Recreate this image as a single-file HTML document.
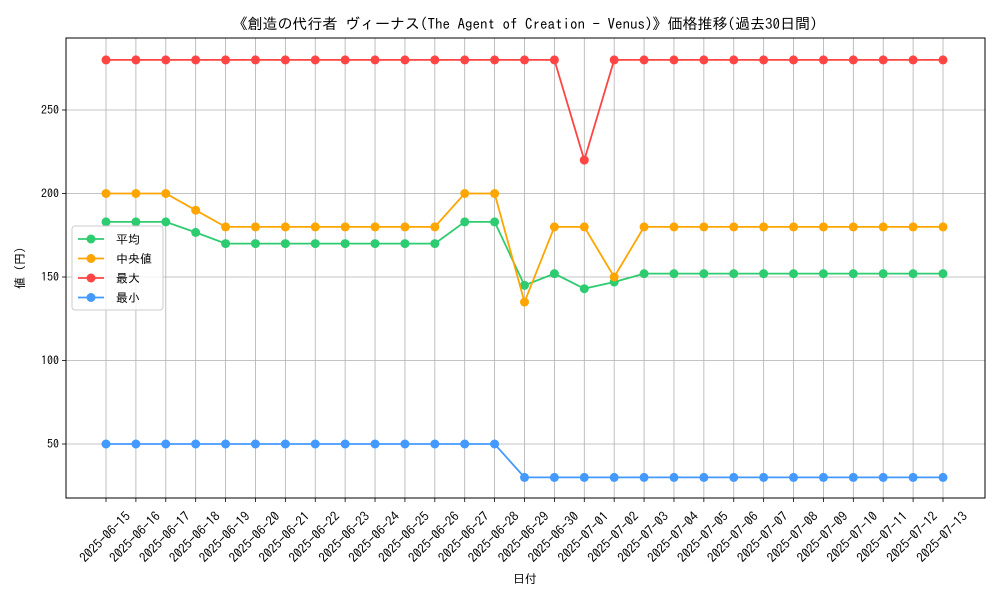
<!DOCTYPE html>
<html><head><meta charset="utf-8"><style>
body{margin:0;background:#fff}
svg text{font-family:"IPAGothic","Noto Sans CJK JP",sans-serif;fill:#000}
</style></head><body>
<svg id="chart" width="1000" height="600" xmlns="http://www.w3.org/2000/svg"></svg>
<script>
const dates=["2025-06-15","2025-06-16","2025-06-17","2025-06-18","2025-06-19","2025-06-20","2025-06-21","2025-06-22","2025-06-23","2025-06-24","2025-06-25","2025-06-26","2025-06-27","2025-06-28","2025-06-29","2025-06-30","2025-07-01","2025-07-02","2025-07-03","2025-07-04","2025-07-05","2025-07-06","2025-07-07","2025-07-08","2025-07-09","2025-07-10","2025-07-11","2025-07-12","2025-07-13"];
const avgVals=[183,183,183,176.7,170,170,170,170,170,170,170,170,183,183,145,152,143,147,152,152,152,152,152,152,152,152,152,152,152];
const medVals=[200,200,200,190,180,180,180,180,180,180,180,180,200,200,135,180,180,150,180,180,180,180,180,180,180,180,180,180,180];
const maxVals=[280,280,280,280,280,280,280,280,280,280,280,280,280,280,280,280,220,280,280,280,280,280,280,280,280,280,280,280,280];
const minVals=[50,50,50,50,50,50,50,50,50,50,50,50,50,50,30,30,30,30,30,30,30,30,30,30,30,30,30,30,30];
const yTicks=[50,100,150,200,250];
const seriesNames=["平均","中央値","最大","最小"];
const colors=["#2ecc71","#ffa500","#ff4444","#4499ff"];

const svg=document.getElementById('chart');
const NS="http://www.w3.org/2000/svg";
const L=66,R=985,T=38,B=498;
const x=i=>106+i*(943-106)/(dates.length-1);
const y=v=>527.5-v*1.67;
function mk(tag,attrs,parent){const e=document.createElementNS(NS,tag);for(const k in attrs)e.setAttribute(k,attrs[k]);(parent||svg).appendChild(e);return e;}

dates.forEach((d,i)=>{
  const g=mk('line',{x1:x(i),x2:x(i),y1:T,y2:B,stroke:'#b0b0b0','stroke-width':0.8});
  
  
  mk('line',{x1:x(i),x2:x(i),y1:B,y2:B+4,stroke:'#000','stroke-width':0.8});
  const t=mk('text',{x:0,y:0,'font-size':13,'text-anchor':'middle','dominant-baseline':'central',transform:`translate(${x(i)-1},${B+39}) rotate(-45)`});
  t.textContent=d;
  
  
});
yTicks.forEach(v=>{
  const g=mk('line',{x1:L,x2:R,y1:y(v),y2:y(v),stroke:'#b0b0b0','stroke-width':0.8});
  
  
  mk('line',{x1:L-4,x2:L,y1:y(v),y2:y(v),stroke:'#000','stroke-width':0.8});
  const t=mk('text',{x:L-7,y:y(v)+4,'font-size':12,'text-anchor':'end'});
  t.textContent=v;
  
  
});
const frame=mk('rect',{x:L,y:T,width:R-L,height:B-T,fill:'none',stroke:'#000','stroke-width':1});



[avgVals,medVals,maxVals,minVals].forEach((vals,s)=>{
  const g=mk('g',{});
  
  
  mk('polyline',{points:vals.map((v,i)=>x(i)+','+y(v)).join(' '),fill:'none',stroke:colors[s],'stroke-width':1.8},g);
  vals.forEach((v,i)=>{
    const c=mk('circle',{cx:x(i),cy:y(v),r:4.5,fill:colors[s]},g);
    
    
  });
});

const lg=mk('g',{});


mk('rect',{x:72,y:226,width:91,height:84,rx:3,fill:'#fff','fill-opacity':0.8,stroke:'#ccc'},lg);
seriesNames.forEach((n,s)=>{
  const yy=239+s*19.5;
  mk('line',{x1:78,x2:104,y1:yy,y2:yy,stroke:colors[s],'stroke-width':1.8},lg);
  mk('circle',{cx:91,cy:yy,r:4.5,fill:colors[s]},lg);
  const t=mk('text',{x:116,y:yy+4.5,'font-size':12},lg);
  t.textContent=n;
  
  
});

const title=mk('text',{x:525,y:29,'font-size':15,'text-anchor':'middle'});
title.textContent="《創造の代行者 ヴィーナス(The Agent of Creation - Venus)》価格推移(過去30日間)";


const xt=mk('text',{x:525,y:583,'font-size':12,'text-anchor':'middle'});
xt.textContent="日付";


const yt=mk('text',{x:0,y:0,'font-size':12,'text-anchor':'middle',transform:'translate(24,268) rotate(-90)'});
yt.textContent="値 (円)";


</script>
</body></html>
